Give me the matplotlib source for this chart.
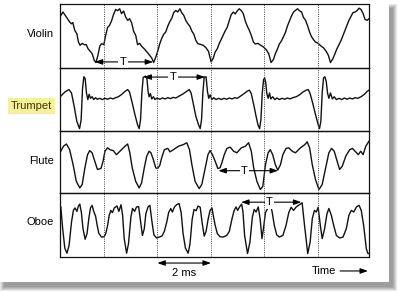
import matplotlib
matplotlib.use('Agg')
import matplotlib.pyplot as plt
from matplotlib.patches import Rectangle

plt.rcParams['font.family'] = ['Liberation Sans', 'DejaVu Sans']

W, H = 399, 292  # output size in pixels

# waveforms: time in ms, amplitude in % of half panel height
instruments = ['Violin', 'Trumpet', 'Flute', 'Oboe']

violin_t = [0.03, 0.11, 0.24, 0.36, 0.43, 0.48, 0.55, 0.63, 0.69, 0.75,
            0.83, 0.90, 0.98, 1.05, 1.13, 1.20, 1.28, 1.34, 1.41, 1.49,
            1.56, 1.64, 1.70, 1.78, 1.85, 1.93, 2.00, 2.08, 2.15, 2.23,
            2.30, 2.38, 2.45, 2.53, 2.60, 2.68, 2.75, 2.83, 2.90, 2.98,
            3.05, 3.15, 3.25, 3.35, 3.43, 3.50, 3.58, 3.65, 3.73, 3.80,
            3.88, 3.95, 4.03, 4.10, 4.18, 4.25, 4.33, 4.40, 4.48, 4.55,
            4.63, 4.70, 4.78, 4.85, 4.93, 5.00, 5.08, 5.15, 5.25, 5.35,
            5.45, 5.55, 5.65, 5.73, 5.80, 5.88, 5.95, 6.03, 6.10, 6.18,
            6.25, 6.33, 6.40, 6.48, 6.55, 6.63, 6.70, 6.78, 6.85, 6.93,
            7.00, 7.08, 7.15, 7.23, 7.30, 7.40, 7.50, 7.60, 7.70, 7.80,
            7.89, 7.98, 8.05, 8.13, 8.20, 8.28, 8.35, 8.43, 8.50, 8.58,
            8.65, 8.73, 8.80, 8.88, 8.95, 9.03, 9.10, 9.18, 9.25, 9.33,
            9.40, 9.48, 9.55, 9.65, 9.75, 9.85, 9.95, 10.03, 10.11, 10.20,
            10.28, 10.35, 10.43, 10.50, 10.58, 10.65, 10.73, 10.80, 10.88, 10.95,
            11.03, 11.10, 11.18, 11.25, 11.33, 11.40, 11.48, 11.55]
violin_a = [64, 75, 59, 44, 38, 42, 18, 7, -19, -29,
            -23, -27, -27, -40, -48, -55, -76, -83, -63, -31,
            -24, -27, 0, 27, 33, 48, 67, 83, 79, 85,
            70, 78, 60, 49, 54, 41, 15, 2, -27, -23,
            -32, -40, -50, -60, -69, -83, -66, -48, -24, -8,
            6, 12, 31, 44, 56, 73, 80, 75, 85, 73,
            64, 49, 38, 31, 15, 6, -14, -24, -26, -29,
            -36, -48, -81, -69, -50, -40, -24, -10, 2, 17,
            27, 49, 67, 75, 69, 79, 85, 79, 70, 46,
            31, 17, 2, -19, -25, -23, -29, -34, -42, -55,
            -83, -73, -55, -40, -25, -15, -3, 12, 31, 48,
            62, 75, 80, 85, 79, 75, 58, 49, 33, 12,
            -2, -12, -19, -23, -31, -37, -48, -60, -83, -71,
            -55, -40, -27, -15, 2, 17, 33, 49, 62, 73,
            75, 79, 87, 83, 70, 52, 49, 54]

trumpet_t = [0.03, 0.18, 0.33, 0.43, 0.53, 0.63, 0.73, 0.79, 0.84, 0.89,
             0.94, 0.99, 1.04, 1.09, 1.14, 1.20, 1.26, 1.33, 1.39, 1.48,
             1.58, 1.68, 1.78, 1.88, 1.98, 2.08, 2.18, 2.30, 2.43, 2.53,
             2.60, 2.70, 2.80, 2.90, 2.96, 3.01, 3.06, 3.11, 3.20, 3.25,
             3.29, 3.33, 3.38, 3.43, 3.49, 3.55, 3.63, 3.73, 3.83, 3.93,
             4.03, 4.13, 4.23, 4.33, 4.45, 4.58, 4.70, 4.83, 4.90, 4.99,
             5.08, 5.18, 5.24, 5.29, 5.34, 5.39, 5.46, 5.51, 5.56, 5.61,
             5.68, 5.75, 5.83, 5.93, 6.03, 6.13, 6.23, 6.33, 6.43, 6.53,
             6.63, 6.75, 6.88, 7.00, 7.08, 7.15, 7.24, 7.33, 7.40, 7.46,
             7.51, 7.56, 7.61, 7.65, 7.69, 7.73, 7.78, 7.83, 7.88, 7.95,
             8.03, 8.11, 8.20, 8.30, 8.40, 8.50, 8.60, 8.70, 8.83, 8.95,
             9.08, 9.20, 9.28, 9.35, 9.45, 9.55, 9.64, 9.70, 9.75, 9.80,
             9.85, 9.90, 9.95, 10.00, 10.05, 10.11, 10.18, 10.25, 10.33, 10.43,
             10.53, 10.63, 10.73, 10.83, 10.93, 11.03, 11.13, 11.25, 11.38, 11.48,
             11.55]
trumpet_a = [10, 23, 31, 20, -23, -71, -94, -66, 31, 72,
             66, 20, -1, 16, 3, 8, -1, 5, 0, 3,
             -1, 3, 0, 4, 1, 5, 8, 15, 25, 31,
             23, -12, -49, -82, -94, -66, 20, 70, 74, 66,
             26, 8, 18, 1, 8, -1, 4, 0, 4, 1,
             5, 2, 6, 4, 10, 16, 23, 31, 20, -17,
             -55, -82, -94, -66, 20, 71, 72, 26, 3, 14,
             -1, 5, -1, 3, -1, 3, 0, 4, 1, 5,
             3, 10, 18, 26, 29, 18, -17, -55, -82, -94,
             -66, 20, 63, 68, 53, 18, 3, 20, 1, 8,
             -1, 4, -1, 3, 0, 4, 1, 5, 8, 14,
             23, 29, 31, 18, -14, -49, -78, -94, -71, 20,
             68, 72, 58, 20, 3, 20, 1, 8, -1, 3,
             -1, 4, 0, 4, 1, 5, 3, 8, 16, 25,
             29]

flute_t = [0.03, 0.13, 0.24, 0.36, 0.49, 0.61, 0.74, 0.83, 0.93, 1.03,
           1.11, 1.20, 1.30, 1.40, 1.53, 1.61, 1.68, 1.78, 1.86, 1.99,
           2.11, 2.24, 2.43, 2.53, 2.61, 2.70, 2.83, 2.96, 3.05, 3.15,
           3.24, 3.33, 3.40, 3.49, 3.58, 3.65, 3.73, 3.80, 3.90, 4.03,
           4.11, 4.24, 4.43, 4.61, 4.74, 4.84, 4.93, 5.05, 5.20, 5.30,
           5.43, 5.53, 5.61, 5.70, 5.80, 5.90, 5.98, 6.05, 6.14, 6.24,
           6.36, 6.49, 6.61, 6.78, 6.93, 7.05, 7.15, 7.24, 7.36, 7.49,
           7.58, 7.68, 7.78, 7.86, 7.95, 8.05, 8.14, 8.24, 8.33, 8.45,
           8.55, 8.68, 8.80, 8.99, 9.15, 9.24, 9.33, 9.43, 9.55, 9.68,
           9.80, 9.93, 10.05, 10.15, 10.25, 10.36, 10.45, 10.55, 10.68, 10.83,
           10.93, 11.05, 11.15, 11.24, 11.33, 11.43, 11.55]
flute_a = [34, 50, 57, 39, -9, -62, -83, -72, -19, 23,
           36, 29, 2, -24, -21, 2, 34, 45, 39, 36,
           23, 34, 50, 57, 29, -19, -62, -83, -67, -19,
           18, 34, 29, 7, -19, -21, -11, 13, 39, 43,
           32, 39, 50, 55, 61, 39, -9, -62, -85, -72,
           -19, 23, 36, 23, 2, -21, -19, -3, 23, 43,
           47, 34, 29, 45, 50, 61, 34, -19, -62, -88,
           -78, -9, 29, 39, 23, -9, -26, -9, 23, 43,
           45, 34, 29, 45, 55, 64, 45, -9, -56, -88,
           -72, -19, 29, 43, 34, 2, -24, -14, 18, 39,
           43, 32, 23, 34, 23, 50, 66]

oboe_t = [0.03, 0.10, 0.18, 0.26, 0.34, 0.43, 0.50, 0.56, 0.63, 0.69,
          0.74, 0.80, 0.86, 0.94, 1.01, 1.08, 1.14, 1.20, 1.26, 1.33,
          1.39, 1.45, 1.55, 1.65, 1.71, 1.78, 1.84, 1.90, 1.96, 2.03,
          2.13, 2.20, 2.28, 2.34, 2.40, 2.49, 2.56, 2.65, 2.71, 2.79,
          2.86, 2.94, 3.00, 3.08, 3.15, 3.21, 3.29, 3.36, 3.44, 3.51,
          3.61, 3.71, 3.81, 3.90, 3.99, 4.06, 4.14, 4.20, 4.28, 4.36,
          4.45, 4.53, 4.60, 4.69, 4.79, 4.86, 4.94, 5.01, 5.09, 5.16,
          5.24, 5.31, 5.39, 5.46, 5.54, 5.61, 5.68, 5.74, 5.80, 5.88,
          5.98, 6.10, 6.23, 6.33, 6.43, 6.51, 6.58, 6.64, 6.71, 6.79,
          6.84, 6.90, 7.01, 7.10, 7.19, 7.26, 7.33, 7.41, 7.48, 7.55,
          7.60, 7.68, 7.76, 7.85, 7.93, 8.01, 8.10, 8.20, 8.33, 8.45,
          8.55, 8.64, 8.73, 8.83, 8.98, 9.05, 9.14, 9.26, 9.35, 9.43,
          9.51, 9.58, 9.65, 9.73, 9.80, 9.89, 9.98, 10.05, 10.14, 10.23,
          10.33, 10.45, 10.58, 10.70, 10.80, 10.89, 10.98, 11.08, 11.18, 11.26,
          11.35, 11.45, 11.51, 11.55]
oboe_a = [57, -12, -73, -89, -64, 9, 46, 54, 43, 60,
          66, 39, -12, -45, -27, 22, 54, 62, 43, 28,
          -1, -26, -38, -37, -27, -1, 31, 46, 39, 54,
          60, 43, 64, 31, -43, -89, -59, 25, 52, 43,
          57, 58, 20, -33, -12, 36, 57, 62, 9, -31,
          -41, -38, -35, -20, 9, 39, 52, 41, 57, 64,
          68, 39, -27, -73, -89, -59, 18, 49, 45, 60,
          56, 9, -35, -20, 20, 46, 54, 25, -1, -27,
          -37, -38, -33, -20, 20, 46, 57, 46, 57, 66,
          41, -33, -90, -54, 25, 49, 41, 57, 20, -43,
          -14, 39, 52, 70, 41, -1, -31, -38, -33, -1,
          39, 56, 46, 57, 66, 70, -1, -90, -54, 20,
          46, 41, 56, -1, -43, -12, 36, 52, 31, -1,
          -33, -41, -38, -12, 31, 46, 41, 57, 62, 46,
          -1, -75, -90, -90]

waves = [(violin_t, violin_a), (trumpet_t, trumpet_a),
         (flute_t, flute_a), (oboe_t, oboe_a)]

# dotted time marks every 2 ms
grid_t = [1.64, 3.64, 5.64, 7.64, 9.64]

# period arrows "T" per instrument
T_start = [1.30, 3.12, 5.92, 6.77]
T_end = [3.48, 5.42, 8.15, 9.02]
T_level = [-81, 71, -28, 72]
T_label = [2.36, 4.22, 6.90, 7.83]

label_y = [0.53, 0.39, 0.51, 0.55]

fig = plt.figure(figsize=(W / 100, H / 100), dpi=100)


def px_box(x0, y0, x1, y1, **kw):
    # pixel box with origin at top left -> figure fraction rectangle
    return Rectangle((x0 / W, 1 - y1 / H), (x1 - x0) / W, (y1 - y0) / H,
                     transform=fig.transFigure, **kw)


# soft drop shadow behind a white card
for r in range(5):
    fig.add_artist(px_box(4 - r, 8 - r, 393 + r, 287 + r, facecolor='black',
                          edgecolor='none', alpha=0.09, zorder=-3))
fig.add_artist(px_box(0, 0, 389, 282, facecolor='white', edgecolor='none',
                      zorder=-2))

edges = [4, 68, 130.5, 193.3, 256.7]
left, right = 60, 369
axes = []
for i, name in enumerate(instruments):
    ax = fig.add_axes([left / W, 1 - edges[i + 1] / H,
                       (right - left) / W, (edges[i + 1] - edges[i]) / H])
    ax.set_facecolor('none')
    t, a = waves[i]
    ax.plot(t, a, color='#111111', lw=1.0, solid_joinstyle='round')
    for g in grid_t:
        ax.axvline(g, color='#444444', lw=0.7, ls=(0, (1, 1.3)))
    ax.set_xlim(0, 11.55)
    ax.set_ylim(-100, 100)
    ax.set_xticks([])
    ax.set_yticks([])
    for s in ax.spines.values():
        s.set_linewidth(0.9)
        s.set_color('#111111')

    ax.annotate('', xy=(T_end[i], T_level[i]), xytext=(T_start[i], T_level[i]),
                arrowprops=dict(arrowstyle='<|-|>,head_length=0.45,head_width=0.16',
                                color='black', lw=0.8, shrinkA=0, shrinkB=0))
    ax.text(T_label[i], T_level[i], 'T', fontsize=8, ha='center', va='center',
            bbox=dict(boxstyle='square,pad=0.12', facecolor='white',
                      edgecolor='none'))

    if name == 'Trumpet':
        ax.text(-0.026, label_y[i], name, transform=ax.transAxes, fontsize=8,
                ha='right', va='center', color='#3d3500',
                bbox=dict(boxstyle='square,pad=0.25', facecolor='#f6f09a',
                          edgecolor='none'))
    else:
        ax.text(-0.02, label_y[i], name, transform=ax.transAxes, fontsize=8,
                ha='right', va='center', color='black')
    axes.append(ax)

# scale bar and time arrow under the last panel
ax = axes[-1]
trans = ax.get_xaxis_transform()
ax.annotate('', xy=(grid_t[2], -0.10), xytext=(grid_t[1], -0.10),
            xycoords=trans, textcoords=trans, annotation_clip=False,
            arrowprops=dict(arrowstyle='<|-|>,head_length=0.45,head_width=0.16',
                            color='black', lw=0.8, shrinkA=0, shrinkB=0))
ax.text((grid_t[1] + grid_t[2]) / 2, -0.26, '2 ms', transform=trans,
        fontsize=8, ha='center', va='center')
ax.text(10.32, -0.225, 'Time', transform=trans, fontsize=8,
        ha='right', va='center')
ax.annotate('', xy=(11.51, -0.225), xytext=(10.47, -0.225),
            xycoords=trans, textcoords=trans, annotation_clip=False,
            arrowprops=dict(arrowstyle='-|>,head_length=0.45,head_width=0.16',
                            color='black', lw=0.8, shrinkA=0, shrinkB=0))

fig.savefig('out.png', dpi=100, facecolor='white')
